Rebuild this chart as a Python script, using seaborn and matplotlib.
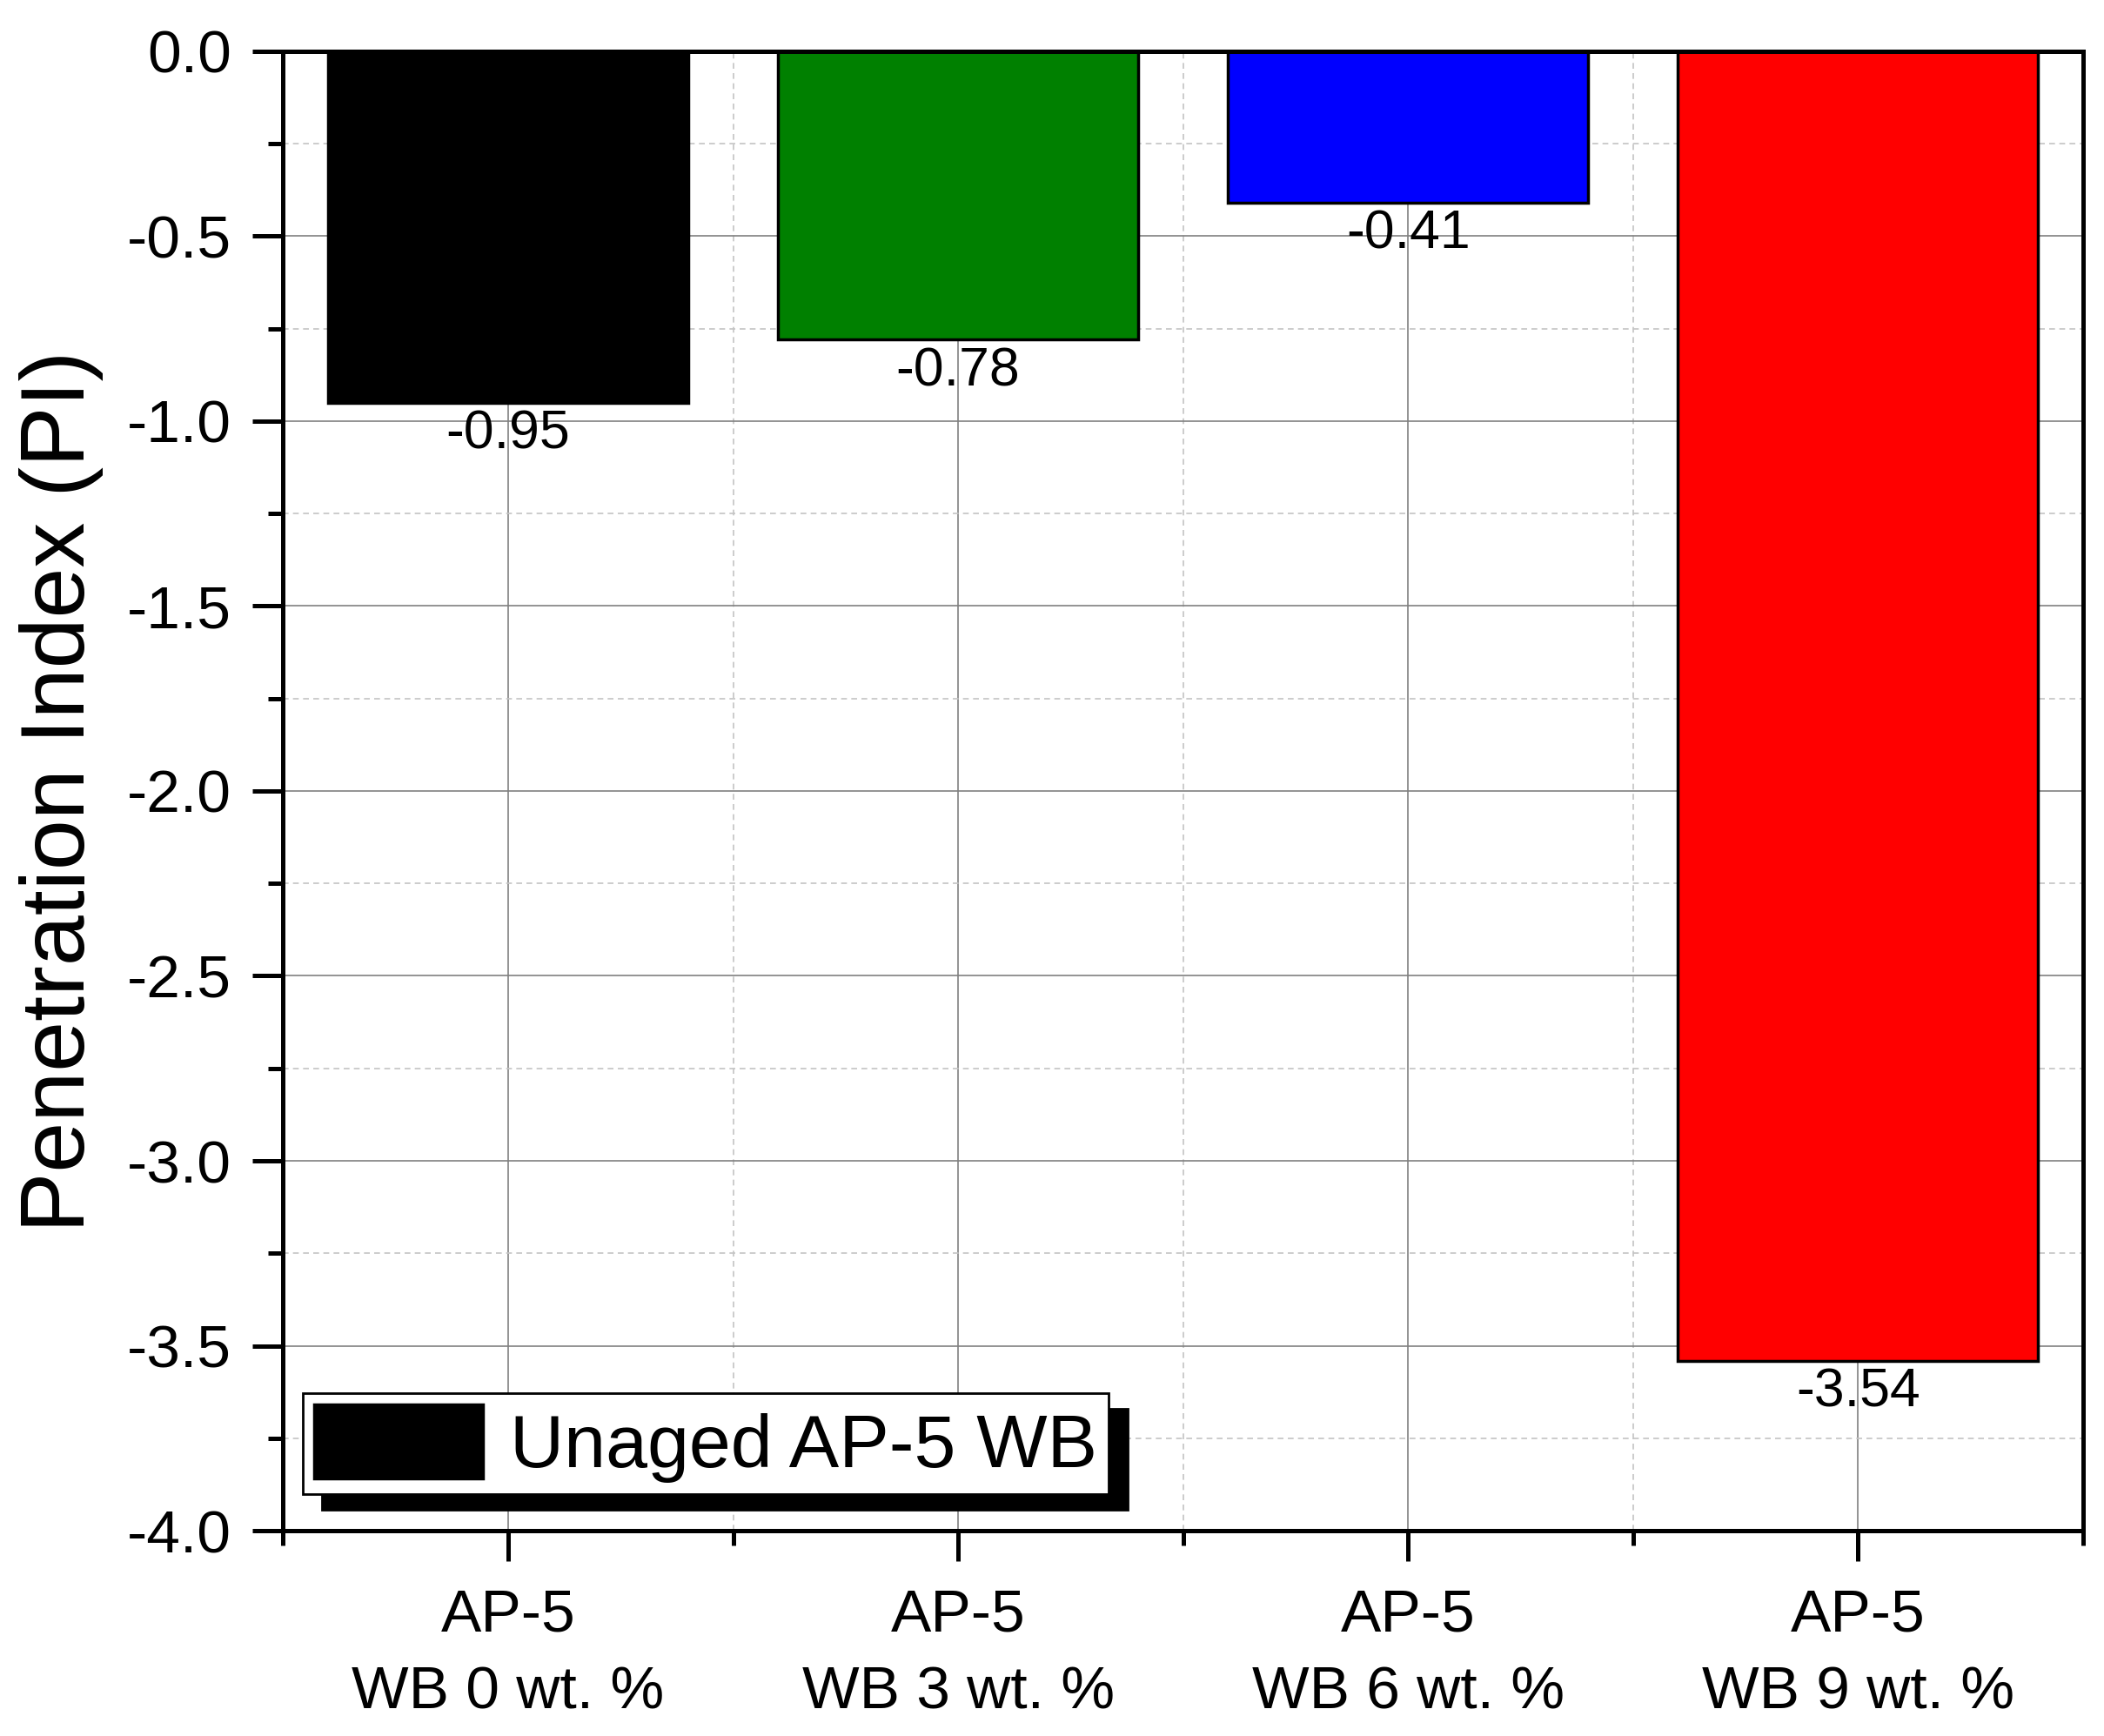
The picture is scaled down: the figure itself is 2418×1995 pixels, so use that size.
import matplotlib
matplotlib.use("Agg")
import matplotlib.pyplot as plt
from matplotlib.ticker import MultipleLocator
import pandas as pd
import seaborn as sns

# ----------------------------------------------------------
# Data
# ----------------------------------------------------------
categories = ["AP-5\nWB 0 wt. %", "AP-5\nWB 3 wt. %", "AP-5\nWB 6 wt. %", "AP-5\nWB 9 wt. %"]
pi_values = [-0.95, -0.78, -0.41, -3.54]
bar_colors = ["#000000", "#008000", "#0000FF", "#FF0000"]
legend_label = "Unaged AP-5 WB"
y_label = "Penetration Index (PI)"

df = pd.DataFrame({"sample": categories, "pi": pi_values})

# ----------------------------------------------------------
# Style
# ----------------------------------------------------------
sns.set_style("white")
plt.rcParams["font.family"] = ["Liberation Sans", "DejaVu Sans"]
plt.rcParams["axes.unicode_minus"] = False
plt.rcParams["text.color"] = "black"
plt.rcParams["axes.labelcolor"] = "black"
plt.rcParams["xtick.color"] = "black"
plt.rcParams["ytick.color"] = "black"

fig = plt.figure(figsize=(24.18, 19.95), dpi=100)
ax = fig.add_axes([0.1346, 0.1182, 0.8554, 0.8524])

sns.barplot(data=df, x="sample", y="pi", hue="sample", palette=bar_colors,
            legend=False, width=0.8, edgecolor="black", linewidth=2.5,
            saturation=1, errorbar=None, ax=ax)

ax.set_xlim(-0.5, 3.5)
ax.set_ylim(-4.0, 0.0)
ax.yaxis.set_major_locator(MultipleLocator(0.5))
ax.yaxis.set_minor_locator(MultipleLocator(0.25))
ax.xaxis.set_minor_locator(MultipleLocator(1.0, offset=0.5))

# grid
ax.set_axisbelow(True)
ax.grid(which="major", color="#808080", lw=1.2, ls="-")
ax.grid(which="minor", color="#c4c4c4", lw=1.2, ls=(0, (4, 3)))

# spines and ticks
for sp in ax.spines.values():
    sp.set_visible(True)
    sp.set_color("black")
    sp.set_linewidth(3.6)
ax.tick_params(which="major", direction="out", length=25, width=3.6,
               labelsize=50, color="black", labelcolor="black")
ax.tick_params(which="minor", direction="out", length=12, width=3.6, color="black")
ax.tick_params(axis="y", which="major", pad=18)
ax.tick_params(axis="x", which="major", pad=22)
ax.tick_params(top=False, right=False, which="both")
ax.tick_params(axis="both", which="both", left=True, bottom=True)
for t in ax.get_xticklabels():
    t.set_linespacing(1.5)

# value labels
for cont in ax.containers:
    ax.bar_label(cont, fmt="%.2f", padding=5, fontsize=45, color="black")

# labels
ax.set_xlabel("")
ax.set_ylabel(y_label, fontsize=75)
ax.yaxis.set_label_coords(-0.100, 0.5)

# legend with solid shadow
leg = ax.legend([ax.containers[0][0]], [legend_label], loc="lower left",
                bbox_to_anchor=(0.011, 0.025), borderaxespad=0, fontsize=62,
                frameon=True, fancybox=False, framealpha=1, edgecolor="black",
                shadow={"ox": 16, "oy": -13, "facecolor": "black", "edgecolor": "black", "alpha": 1},
                handlelength=2.25, handleheight=1.15, handletextpad=0.36, borderpad=0.15)
leg.get_frame().set_linewidth(2)

fig.savefig("out.png", dpi=100)
